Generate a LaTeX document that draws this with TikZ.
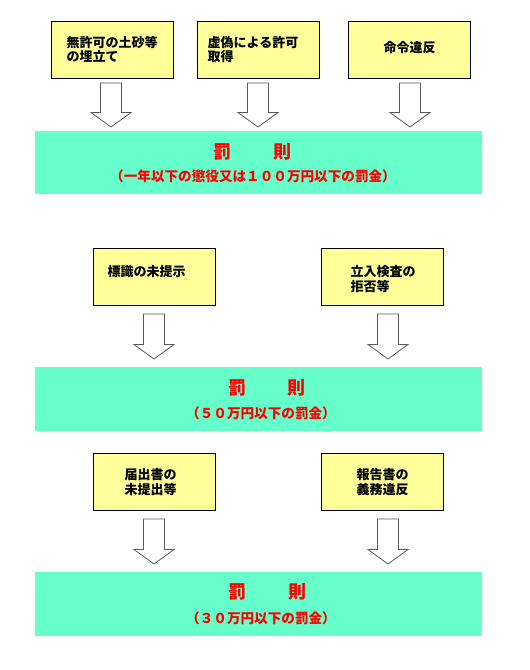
\documentclass[tikz,border=0pt]{standalone}
\usepackage{fontspec}
\setmainfont{Noto Sans CJK JP}
\usetikzlibrary{calc}
\definecolor{boxyellow}{HTML}{FFFF99}
\definecolor{bandgreen}{HTML}{66FFCC}
\definecolor{penred}{HTML}{FF0000}
\tikzset{
 offbox/.style={draw=black, fill=boxyellow, line width=0.8pt, minimum width=122pt, minimum height=57pt, inner sep=0pt},
 band/.style={fill=bandgreen, minimum width=447pt, minimum height=63pt, inner sep=0pt},
 btext/.style={font=\fontsize{13}{14.5}\selectfont\bfseries, align=left, anchor=west, inner sep=0pt},
 ttl/.style={font=\fontsize{18}{20}\selectfont\bfseries, text=penred, inner sep=0pt},
 subt/.style={font=\fontsize{13.6}{15}\selectfont\bfseries, text=penred, inner sep=0pt},
 blk/.style={draw=gray!70!black, fill=white, line width=0.8pt, line join=miter}
}
\newcommand\blockarrow[3]{%
 \draw[blk] (#1-10.5,#2) -- (#1+10.5,#2) -- (#1+10.5,#3-14.5) -- (#1+20,#3-14.5) -- (#1,#3) -- (#1-20,#3-14.5) -- (#1-10.5,#3-14.5) -- cycle;}
\begin{document}
\begin{tikzpicture}[x=1pt,y=-1pt]
\useasboundingbox (0,0) rectangle (530,670);
% section 1
\node[offbox] (a1) at (112,49.5) {};
\node[offbox] (a2) at (258,49.5) {};
\node[offbox] (a3) at (409.5,49.5) {};
\node[btext] (ta1) at (66.5,49.5) {無許可の土砂等\\の埋立て};
\node[btext] (ta2) at (207.5,49.5) {虚偽による許可\\取得};
\node[btext] (ta3) at (383.5,47.5) {命令違反};
\blockarrow{111}{83}{127}
\blockarrow{258}{83}{127}
\blockarrow{410}{83}{127}
\node[band] (p1) at (258.5,162.5) {};
\node[ttl] (p1a) at (222,152) {罰};
\node[ttl] (p1b) at (282,152) {則};
\node[subt] (p1s) at (253,176) {（一年以下の懲役又は１００万円以下の罰金）};
% section 2
\node[offbox] (b1) at (154.5,277) {};
\node[offbox] (b2) at (382,277) {};
\node[btext] (tb1) at (107.5,271.5) {標識の未提示};
\node[btext] (tb2) at (350.5,279) {立入検査の\\拒否等};
\blockarrow{154}{314}{359}
\blockarrow{388}{314}{359}
\node[band, minimum height=64pt] (p2) at (258.5,399) {};
\node[ttl] (p2a) at (237,388) {罰};
\node[ttl] (p2b) at (296,388) {則};
\node[subt] (p2s) at (261,413) {（５０万円以下の罰金）};
% section 3
\node[offbox] (c1) at (154.5,482) {};
\node[offbox] (c2) at (382,482) {};
\node[btext] (tc1) at (124.5,482) {届出書の\\未提出等};
\node[btext] (tc2) at (356.5,482) {報告書の\\義務違反};
\blockarrow{154}{519}{564}
\blockarrow{388}{519}{564}
\node[band, minimum height=64pt] (p3) at (258.5,604) {};
\node[ttl] (p3a) at (237,592) {罰};
\node[ttl] (p3b) at (297,592) {則};
\node[subt] (p3s) at (261,618) {（３０万円以下の罰金）};
\end{tikzpicture}
\end{document}
